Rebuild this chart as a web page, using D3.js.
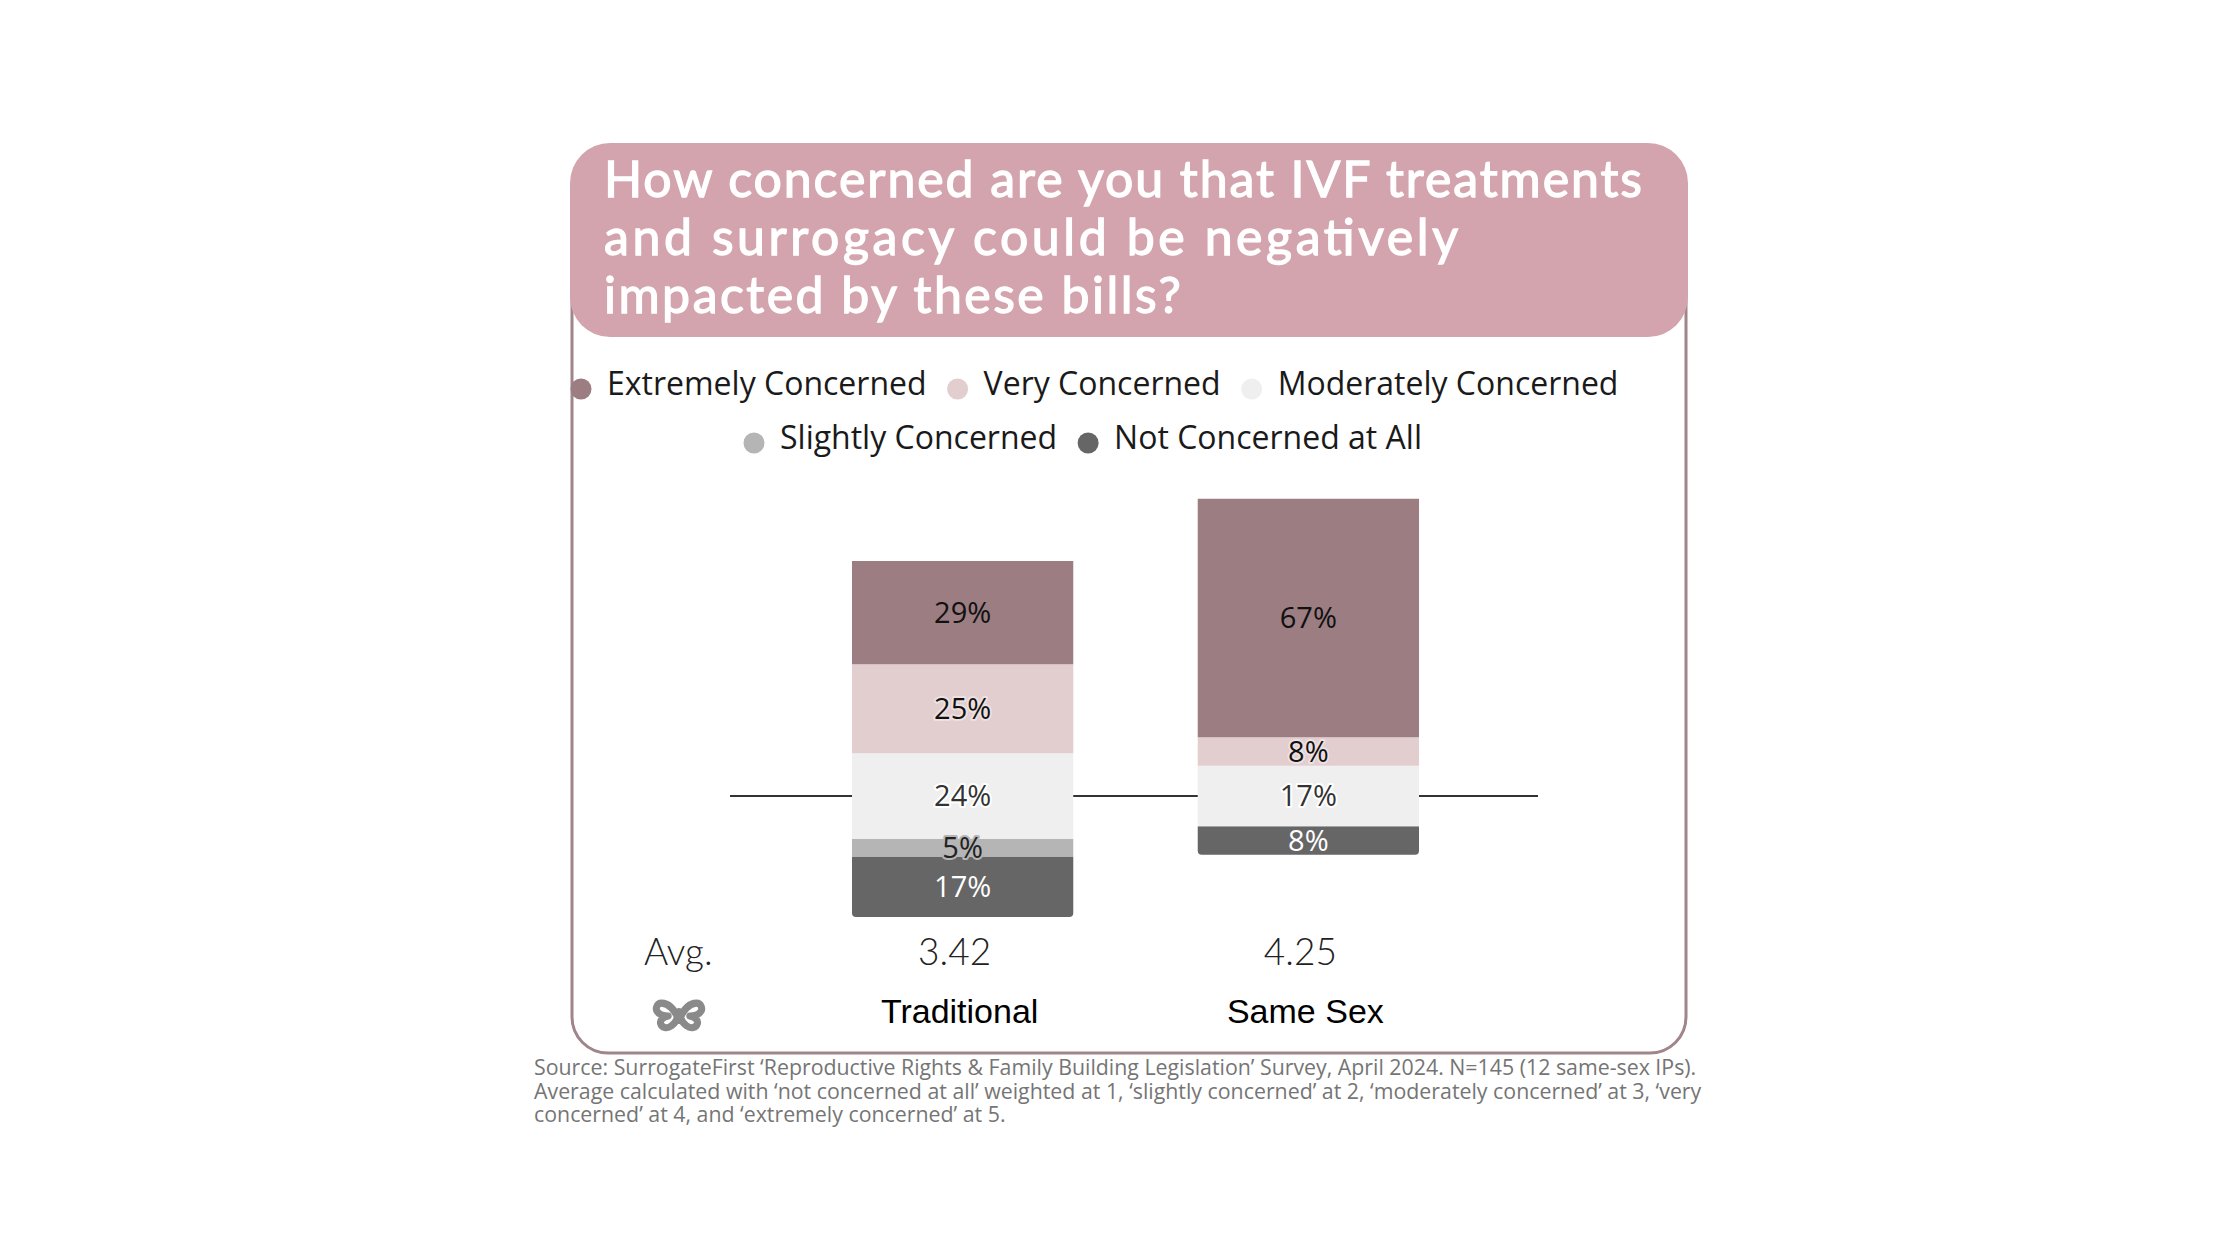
<!DOCTYPE html>
<html>
<head>
<meta charset="utf-8">
<script src="https://cdn.jsdelivr.net/npm/d3@7"></script>
<style>
  html, body { margin: 0; padding: 0; background: #ffffff; }
  svg { display: block; }
</style>
</head>
<body>
<svg id="chart" width="2240" height="1260"></svg>
<script>
// ---------- data ----------
const categories = ["Traditional", "Same Sex"];
const seriesNames = ["Not Concerned at All", "Slightly Concerned", "Moderately Concerned", "Very Concerned", "Extremely Concerned"];
const notConcerned = [17, 8];
const slightlyConcerned = [5, 0];
const moderatelyConcerned = [24, 17];
const veryConcerned = [25, 8];
const extremelyConcerned = [29, 67];
const averages = ["3.42", "4.25"];
const legendRow1 = ["Extremely Concerned", "Very Concerned", "Moderately Concerned"];
const legendRow2 = ["Slightly Concerned", "Not Concerned at All"];
const titleLines = ["How concerned are you that IVF treatments", "and surrogacy could be negatively", "impacted by these bills?"];
const sourceLines = [
  "Source: SurrogateFirst \u2018Reproductive Rights & Family Building Legislation\u2019 Survey, April 2024. N=145 (12 same-sex IPs).",
  "Average calculated with \u2018not concerned at all\u2019 weighted at 1, \u2018slightly concerned\u2019 at 2, \u2018moderately concerned\u2019 at 3, \u2018very",
  "concerned\u2019 at 4, and \u2018extremely concerned\u2019 at 5."
];

// ---------- styles ----------
const colors = {
  "Extremely Concerned": "#9b7d82",
  "Very Concerned": "#e2cdcf",
  "Moderately Concerned": "#efefef",
  "Slightly Concerned": "#b5b5b5",
  "Not Concerned at All": "#666666"
};
const labelStyle = {
  "Extremely Concerned": { fill: "#111", halo: null },
  "Very Concerned": { fill: "#111", halo: "#ece0e1" },
  "Moderately Concerned": { fill: "#333", halo: "#ffffff" },
  "Slightly Concerned": { fill: "#222", halo: "#b5b5b5" },
  "Not Concerned at All": { fill: "#ffffff", halo: null }
};
const frameColor = "#a0858a";
const titleBg = "#d4a4ae";

const svg = d3.select("#chart");

// ---------- frame ----------
svg.append("rect")
  .attr("x", 572).attr("y", 170).attr("width", 1114).attr("height", 883)
  .attr("rx", 36).attr("ry", 36)
  .attr("fill", "none").attr("stroke", frameColor).attr("stroke-width", 3);

// ---------- title ----------
svg.append("rect")
  .attr("x", 570).attr("y", 143).attr("width", 1118).attr("height", 194)
  .attr("rx", 40).attr("ry", 40).attr("fill", titleBg);

const titleWidths = [1038, 854, 577];
const titleBase = [197, 255, 313];
svg.append("g").selectAll("text").data(titleLines).join("text")
  .attr("x", 604).attr("y", (d, i) => titleBase[i])
  .attr("font-family", "Lato, 'Open Sans', sans-serif")
  .attr("font-size", 50).attr("font-weight", 400)
  .attr("fill", "#ffffff")
  .attr("stroke", "#ffffff").attr("stroke-width", 1.3)
  .attr("textLength", (d, i) => titleWidths[i])
  .attr("lengthAdjust", "spacing")
  .text(d => d);

// ---------- legend ----------
function legendRow(items, startX, baseline) {
  let x = startX;
  const g = svg.append("g");
  items.forEach(name => {
    g.append("circle").attr("cx", x).attr("cy", baseline - 6).attr("r", 10.5).attr("fill", colors[name]);
    const t = g.append("text").attr("x", x + 26).attr("y", baseline)
      .attr("font-family", "'Open Sans', sans-serif").attr("font-size", 32)
      .attr("fill", "#1a1a1a").text(name);
    const w = t.node().getComputedTextLength();
    x = x + 26 + w + 31;
  });
}
legendRow(legendRow1, 581, 395);
legendRow(legendRow2, 754, 449);

// ---------- scales ----------
const x = d3.scaleBand().domain(categories).range([852, 1419]).paddingInner(0.36).paddingOuter(0);
const y = d3.scaleLinear().domain([-50, 100]).range([974, 440]);

// ---------- baseline ----------
svg.append("line")
  .attr("x1", 730).attr("x2", 1538)
  .attr("y1", y(0)).attr("y2", y(0))
  .attr("stroke", "#333").attr("stroke-width", 2.2);

// ---------- diverging stacks ----------
const valuesBySeries = {
  "Not Concerned at All": notConcerned,
  "Slightly Concerned": slightlyConcerned,
  "Moderately Concerned": moderatelyConcerned,
  "Very Concerned": veryConcerned,
  "Extremely Concerned": extremelyConcerned
};
const segments = [];
categories.forEach((cat, ci) => {
  let start = -(notConcerned[ci] + slightlyConcerned[ci] + moderatelyConcerned[ci] / 2);
  const segs = [];
  seriesNames.forEach(s => {
    const v = valuesBySeries[s][ci];
    segs.push({ cat, series: s, value: v, y0: start, y1: start + v });
    start += v;
  });
  const nonzero = segs.filter(d => d.value > 0);
  nonzero[0].bottom = true;
  segments.push(...segs);
});

function segPath(d) {
  const x0 = x(d.cat), x1 = x(d.cat) + x.bandwidth();
  const top = y(d.y1), bot = y(d.y0);
  if (!d.bottom) return `M${x0},${top}H${x1}V${bot}H${x0}Z`;
  const r = 4;
  return `M${x0},${top}H${x1}V${bot - r}Q${x1},${bot} ${x1 - r},${bot}H${x0 + r}Q${x0},${bot} ${x0},${bot - r}Z`;
}

svg.append("g").selectAll("path").data(segments.filter(d => d.value > 0)).join("path")
  .attr("d", segPath)
  .attr("fill", d => colors[d.series]);

svg.append("g").selectAll("text").data(segments.filter(d => d.value > 0)).join("text")
  .attr("x", d => x(d.cat) + x.bandwidth() / 2)
  .attr("y", d => (y(d.y0) + y(d.y1)) / 2)
  .attr("dy", "0.36em")
  .attr("text-anchor", "middle")
  .attr("font-family", "'Open Sans', sans-serif")
  .attr("font-size", 29)
  .attr("fill", d => labelStyle[d.series].fill)
  .attr("stroke", d => labelStyle[d.series].halo || "none")
  .attr("stroke-width", d => labelStyle[d.series].halo ? 4 : 0)
  .attr("stroke-linejoin", "round")
  .attr("paint-order", "stroke")
  .text(d => d.value + "%");

// ---------- averages ----------
svg.append("text").attr("x", 644).attr("y", 965)
  .attr("font-family", "Lato, sans-serif").attr("font-weight", 300).attr("font-size", 37)
  .attr("fill", "#222").text("Avg.");
svg.append("g").selectAll("text").data(categories).join("text")
  .attr("x", d => x(d) + x.bandwidth() / 2 - 8)
  .attr("y", 965)
  .attr("text-anchor", "middle")
  .attr("font-family", "Lato, sans-serif").attr("font-weight", 300).attr("font-size", 37)
  .attr("fill", "#222")
  .text((d, i) => averages[i]);

// ---------- category axis labels ----------
const xAxis = d3.axisBottom(x).tickSize(0).tickPadding(0);
const axisG = svg.append("g").attr("transform", "translate(0,999)").call(xAxis);
axisG.select(".domain").remove();
axisG.selectAll("text")
  .attr("font-family", "'Liberation Sans', Arial, sans-serif")
  .attr("font-size", 34)
  .attr("fill", "#000")
  .attr("dy", "0.71em")
  .attr("dx", -3);

// ---------- logo ----------
const logo = svg.append("g").attr("transform", "translate(679,1015) scale(1.08)")
  .attr("fill", "none").attr("stroke", "#8a8a8a").attr("stroke-width", 6.5)
  .attr("stroke-linecap", "round").attr("stroke-linejoin", "round");
const wing = "M0,5 C-4,-5 -10,-11 -16,-11 C-21,-11 -22,-5 -20,-3 C-18,0 -14,1 -10,1 C-15,2 -18,5 -17,8 C-16,12 -11,13 -7,10 C-4,8 -1,3 0,-3";
logo.append("path").attr("d", wing);
logo.append("path").attr("d", wing).attr("transform", "scale(-1,1)");

// ---------- source ----------
const src = svg.append("g").selectAll("text").data(sourceLines).join("text")
  .attr("x", 534).attr("y", (d, i) => 1075 + i * 23.5)
  .attr("font-family", "'Open Sans', sans-serif")
  .attr("font-size", 20)
  .attr("fill", "#757575")
  .text(d => d);
// fit the first line's measured width to the reference width
const w0 = src.nodes()[0].getComputedTextLength();
const fs = 20 * 1163 / w0;
src.attr("font-size", Math.min(22, Math.max(17, fs)));
</script>
</body>
</html>
